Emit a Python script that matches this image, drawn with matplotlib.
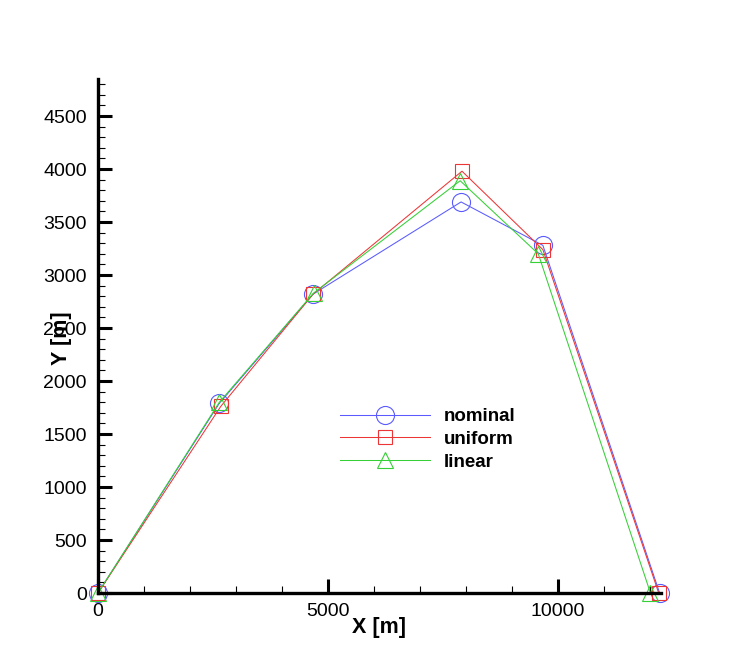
"""Tecplot-style XY line plot of three cases (nominal / uniform / linear)."""

import matplotlib
matplotlib.use("Agg")
import matplotlib.pyplot as plt
from matplotlib.ticker import MultipleLocator

plt.rcParams["font.family"] = ["Liberation Sans", "DejaVu Sans"]

# data
x_nominal = [0, 2640, 4680, 7900, 9680, 12220]
y_nominal = [0, 1790, 2820, 3690, 3280, 0]

x_uniform = [0, 2670, 4680, 7920, 9680, 12200]
y_uniform = [0, 1760, 2820, 3980, 3240, 0]

x_linear = [0, 2640, 4690, 7880, 9580, 12020]
y_linear = [0, 1800, 2830, 3890, 3200, 0]

labels = ["nominal", "uniform", "linear"]

fig = plt.figure(figsize=(7.5, 6.67), dpi=100)
ax = fig.add_axes([98 / 750, 1 - 593 / 667, (661 - 98) / 750, (593 - 79) / 667])

series = [
    (x_nominal, y_nominal, "o", 13, "#5a5aff"),
    (x_uniform, y_uniform, "s", 10, "#ee3535"),
    (x_linear, y_linear, "^", 11, "#35d035"),
]
for (xs, ys, mk, ms, col), lab in zip(series, labels):
    ax.plot(xs, ys, color=col, lw=0.75, marker=mk, ms=ms, mfc="none",
            mec=col, mew=0.8, label=lab, clip_on=False)

ax.set_xlim(0, 12250)
ax.set_ylim(0, 4850)

for side in ("top", "right"):
    ax.spines[side].set_visible(False)
for side in ("left", "bottom"):
    ax.spines[side].set_linewidth(2.4)

ax.xaxis.set_major_locator(MultipleLocator(5000))
ax.xaxis.set_minor_locator(MultipleLocator(1000))
ax.yaxis.set_major_locator(MultipleLocator(500))
ax.yaxis.set_minor_locator(MultipleLocator(100))
ax.tick_params(which="major", direction="in", length=10, width=2.2,
               labelsize=14, pad=7)
ax.tick_params(which="minor", direction="in", length=5, width=0.8)
ax.tick_params(axis="y", pad=8)

fig.text(379 / 750, 1 - 628 / 667, "X [m]", fontsize=15.5, fontweight="bold",
         ha="center", va="center")
fig.text(62 / 750, 1 - 338 / 667, "Y [m]", fontsize=15.5, fontweight="bold",
         ha="center", va="center", rotation=90)

leg = ax.legend(frameon=False, loc="upper left", numpoints=1,
                bbox_to_anchor=(327 / 750, 1 - 395 / 667),
                bbox_transform=fig.transFigure,
                prop={"size": 13.5, "weight": "bold"},
                handlelength=4.8, handletextpad=0.75, labelspacing=0.3,
                borderpad=0.2)

fig.savefig("out.png", dpi=100)
